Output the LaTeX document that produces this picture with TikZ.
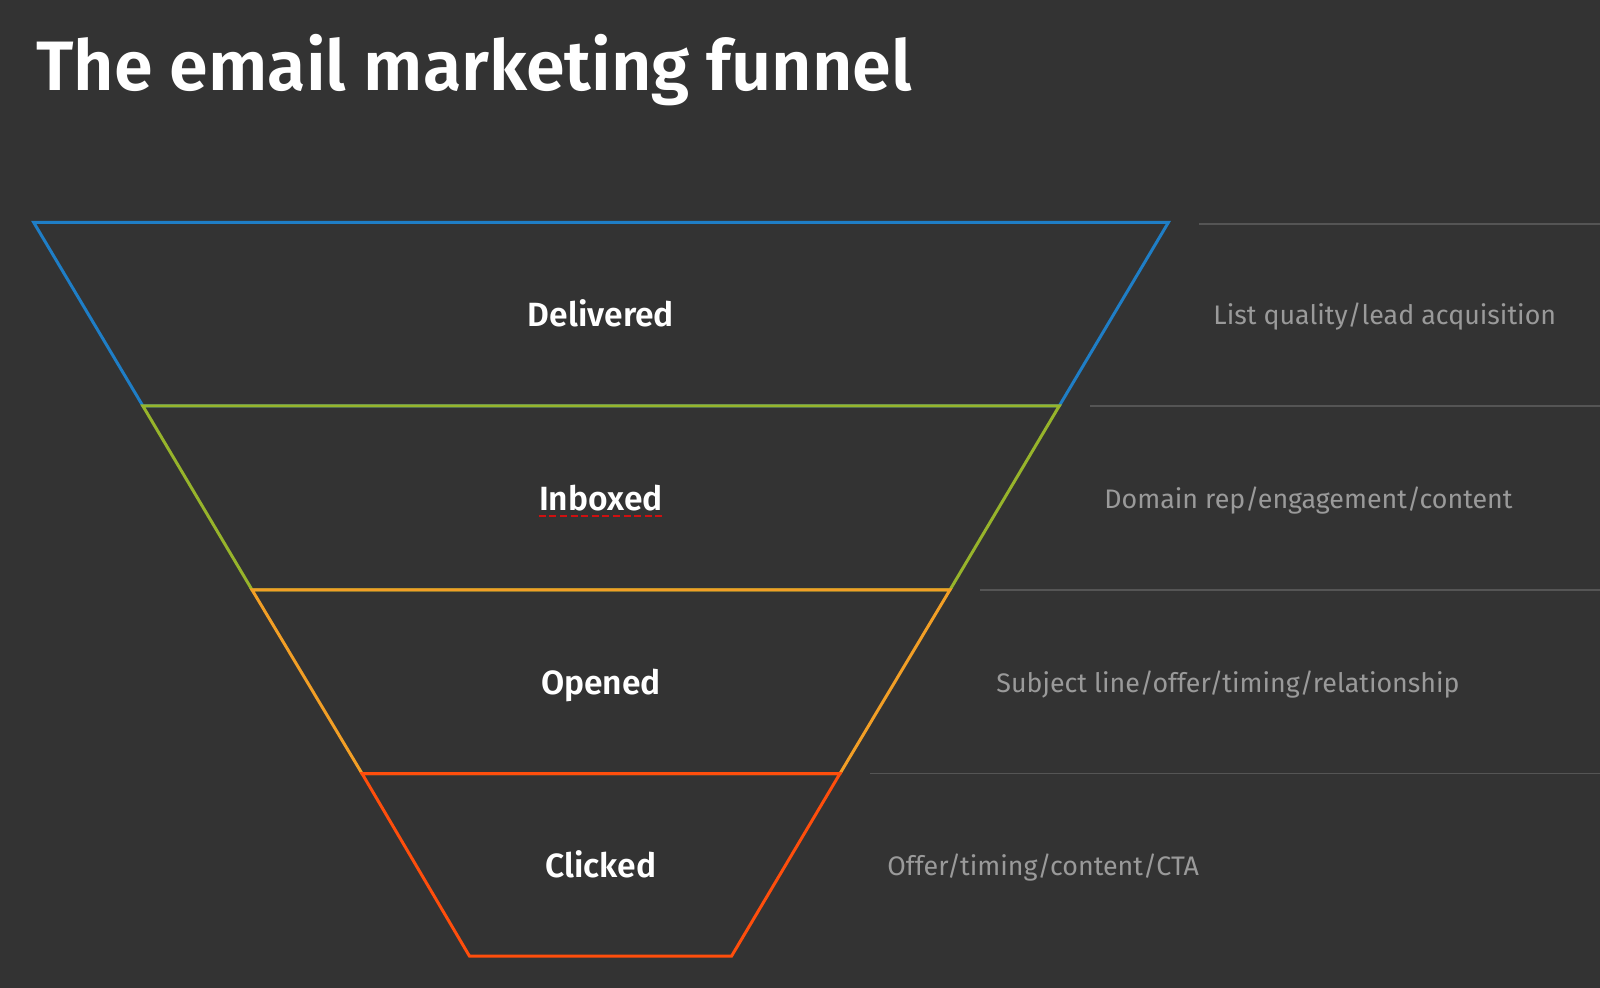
\documentclass[tikz,border=0pt]{standalone}
\usepackage{fontspec}
\setmainfont{Fira Sans}[BoldFont={Fira Sans SemiBold}]
\usepackage{xcolor}
\usepackage{tikz}
\usetikzlibrary{calc, positioning}

\definecolor{bgdark}{HTML}{333333}
\definecolor{funnelblue}{HTML}{1F7EC6}
\definecolor{funnelgreen}{HTML}{97B42B}
\definecolor{funnelorange}{HTML}{F29F26}
\definecolor{funnelred}{HTML}{FF4E0C}
\definecolor{rulegray}{HTML}{555555}
\definecolor{notegray}{HTML}{9A9A9A}
\definecolor{spellred}{HTML}{D01010}

\begin{document}
\begin{tikzpicture}[x=0.5pt, y=-0.5pt,
    stage/.style={line width=1.5pt, line join=miter},
    stagelabel/.style={text=white, inner sep=0pt, anchor=base,
        font=\bfseries\fontsize{16.8}{20}\selectfont},
    note/.style={text=notegray, inner sep=0pt, anchor=base west,
        font=\fontsize{13.4}{16}\selectfont},
    divider/.style={rulegray, line width=0.8pt}]

    % =================================================================
    % 1. NEN TOI VA KHUNG ANH (1600 x 988 px)
    % =================================================================
    \fill[bgdark] (0,0) rectangle (1600,988);
    \useasboundingbox (0,0) rectangle (1600,988);

    % Tieu de
    \node[anchor=base west, inner sep=0pt, text=white,
          font=\bfseries\fontsize{35}{42}\selectfont] (title) at (36,91)
          {The email marketing funnel};

    % =================================================================
    % 2. CAC DIEM GOC CUA PHEU
    % =================================================================
    \coordinate (T1L) at (33.7,222.4);
    \coordinate (T1R) at (1168.4,222.4);
    \coordinate (T2L) at (142.9,406);
    \coordinate (T2R) at (1059.2,406);
    \coordinate (T3L) at (252,589.8);
    \coordinate (T3R) at (950,589.8);
    \coordinate (T4L) at (362,773.5);
    \coordinate (T4R) at (840,773.5);
    \coordinate (T5L) at (469.4,956);
    \coordinate (T5R) at (731.6,956);

    % =================================================================
    % 3. VE CAC TANG CUA PHEU (tang sau de len canh duoi tang truoc)
    % =================================================================
    \draw[stage, funnelblue]   (T1L) -- (T1R) -- (T2R) -- (T2L) -- cycle;
    \draw[stage, funnelgreen]  (T2L) -- (T2R) -- (T3R) -- (T3L) -- cycle;
    \draw[stage, funnelorange] (T3L) -- (T3R) -- (T4R) -- (T4L) -- cycle;
    \draw[stage, funnelred]    (T4L) -- (T4R) -- (T5R) -- (T5L) -- cycle;

    % Nhan cua tung tang
    \node[stagelabel] (delivered) at (601,327) {Delivered};
    \node[stagelabel] (inboxed)   at (601,511) {Inboxed};
    \node[stagelabel] (opened)    at (601,694) {Opened};
    \node[stagelabel] (clicked)   at (601,877) {Clicked};

    % Gach chan kiem tra chinh ta duoi "Inboxed"
    \draw[spellred, line width=0.7pt, dash pattern=on 3.5pt off 1.8pt]
        ($(inboxed.base west)+(0,5)$) -- ($(inboxed.base east)+(0,5)$);

    % =================================================================
    % 4. DUONG KE XAM VA GHI CHU BEN PHAI
    % =================================================================
    \draw[divider] (1199,224) -- (1600,224);
    \draw[divider] (1090,406) -- (1600,406);
    \draw[divider] (980,590) -- (1600,590);
    \draw[divider] (870,773.5) -- (1600,773.5);

    \node[note] (listq)   at (1213,325) {List quality/lead acquisition};
    \node[note] (domain)  at (1104,509) {Domain rep/engagement/content};
    \node[note] (subject) at (996,692)  {Subject line/offer/timing/relationship};
    \node[note] (offer)   at (887,875)  {Offer/timing/content/CTA};

\end{tikzpicture}
\end{document}
